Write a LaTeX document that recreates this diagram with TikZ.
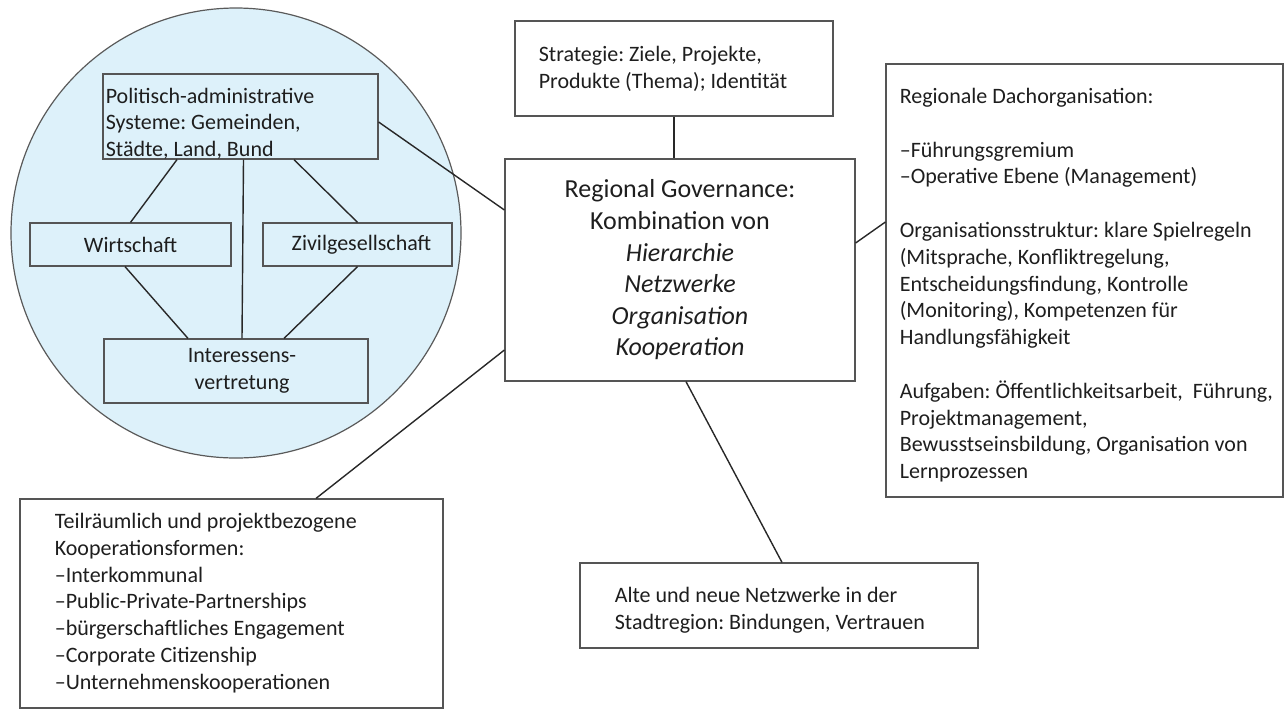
\documentclass[tikz,border=0pt]{standalone}
\usepackage{fontspec}
\setmainfont{Carlito}
\usetikzlibrary{positioning,calc}

\definecolor{circfill}{RGB}{221,241,250}
\definecolor{circline}{RGB}{90,90,90}
\definecolor{boxline}{RGB}{85,85,85}
\definecolor{linkline}{RGB}{40,40,40}
\definecolor{inktext}{RGB}{30,30,30}

\tikzset{
	box/.style={draw=boxline, line width=0.6pt, rectangle, inner sep=0pt, text=inktext,
		font=\fontsize{11}{13.4}\selectfont, align=center},
	txt/.style={inner sep=0pt, align=left, anchor=north west, text=inktext,
		font=\fontsize{11}{13.4}\selectfont, execute at begin node=\strut},
	link/.style={draw=linkline, line width=0.7pt},
}

\begin{document}
\frenchspacing
\begin{tikzpicture}[x=0.5pt, y=-0.5pt]
		\useasboundingbox (0,0) rectangle (1285,709);
		% Akteursgruppen im Kreis
		\node[circle, draw=circline, fill=circfill, line width=0.6pt, minimum size=225pt, inner sep=0pt] (env) at (236,233) {};
		\node[box, minimum width=137.5pt, minimum height=42.5pt] (pol) at (240.5,116.5) {};
		\node[txt] (poltext) at ([xshift=1.5pt,yshift=-7pt]pol.north west)
			{Politisch-administrative\\Systeme: Gemeinden,\\Städte, Land, Bund};
		\node[box, minimum width=100.5pt, minimum height=21.5pt] (wir) at (130.5,244.5) {Wirtschaft};
		\node[box, minimum width=94.5pt, minimum height=21.5pt] (ziv) at (357.5,244.5) {\hspace*{4pt}Zivilgesellschaft};
		\node[box, minimum width=132pt, minimum height=32pt] (int) at (236,371) {\hspace*{6pt}Interessens-\\\hspace*{6pt}vertretung};
		\draw[link] ([xshift=-31.75pt]pol.south) -- (wir.north);
		\draw[link] ([xshift=1.5pt]pol.south) -- ([xshift=3pt]int.north);
		\draw[link] ([xshift=26.75pt]pol.south) -- (ziv.north);
		\draw[link] ([xshift=-2.75pt]wir.south) -- ([xshift=-24pt]int.north);
		\draw[link] (ziv.south) -- ([xshift=24pt]int.north);
		% Kern
		\node[box, minimum width=175pt, minimum height=111pt, font=\fontsize{13}{15.8}\selectfont] (reg) at (680,270)
			{Regional Governance:\\Kombination von\\\textit{Hierarchie}\\\textit{Netzwerke}\\\textit{Organisation}\\\textit{Kooperation}};
		\node[box, minimum width=159pt, minimum height=47.5pt] (str) at (674,68.5) {};
		\node[txt] (strtext) at ([xshift=12pt,yshift=-12.8pt]str.north west)
			{Strategie: Ziele, Projekte,\\Produkte (Thema); Identität};
		\node[box, minimum width=198.5pt, minimum height=216.5pt] (dach) at (1084.5,280.5) {};
		\node[txt] (dachtext) at ([xshift=7pt,yshift=-12.2pt]dach.north west)
			{Regionale Dachorganisation:\\[13.4pt]
			–Führungsgremium\\
			–Operative Ebene (Management)\\[13.4pt]
			Organisationsstruktur: klare Spielregeln\\
			(Mitsprache, Konfliktregelung,\\
			Entscheidungsfindung, Kontrolle\\
			(Monitoring), Kompetenzen für\\
			Handlungsfähigkeit\\[13.4pt]
			Aufgaben: Öffentlichkeitsarbeit,\ \ Führung,\\
			Projektmanagement,\\
			Bewusstseinsbildung, Organisation von\\
			Lernprozessen};
		\node[box, minimum width=211.5pt, minimum height=104.5pt] (teil) at (231.5,603.5) {};
		\node[txt] (teiltext) at ([xshift=17.5pt,yshift=-7.2pt]teil.north west)
			{Teilräumlich und projektbezogene\\
			Kooperationsformen:\\
			–Interkommunal\\
			–Public-Private-Partnerships\\
			–bürgerschaftliches Engagement\\
			–Corporate Citizenship\\
			–Unternehmenskooperationen};
		\node[box, minimum width=199pt, minimum height=42.5pt] (alte) at (779,605.5) {};
		\node[txt] (altetext) at ([xshift=17.5pt,yshift=-12.4pt]alte.north west)
			{Alte und neue Netzwerke in der\\Stadtregion: Bindungen, Vertrauen};
		% Verbindungen zum Kern
		\draw[link] ([yshift=-2.75pt]pol.east) -- ([yshift=30pt]reg.west);
		\draw[link] ([yshift=-40pt]reg.west) -- ([xshift=42.25pt]teil.north);
		\draw[link] (str.south) -- (str.south |- reg.north);
		\draw[link] ([yshift=13.5pt]reg.east) -- ([yshift=29.25pt]dach.west);
		\draw[link] ([xshift=3pt]reg.south) -- ([xshift=1.5pt]alte.north);
	\end{tikzpicture}
\end{document}
